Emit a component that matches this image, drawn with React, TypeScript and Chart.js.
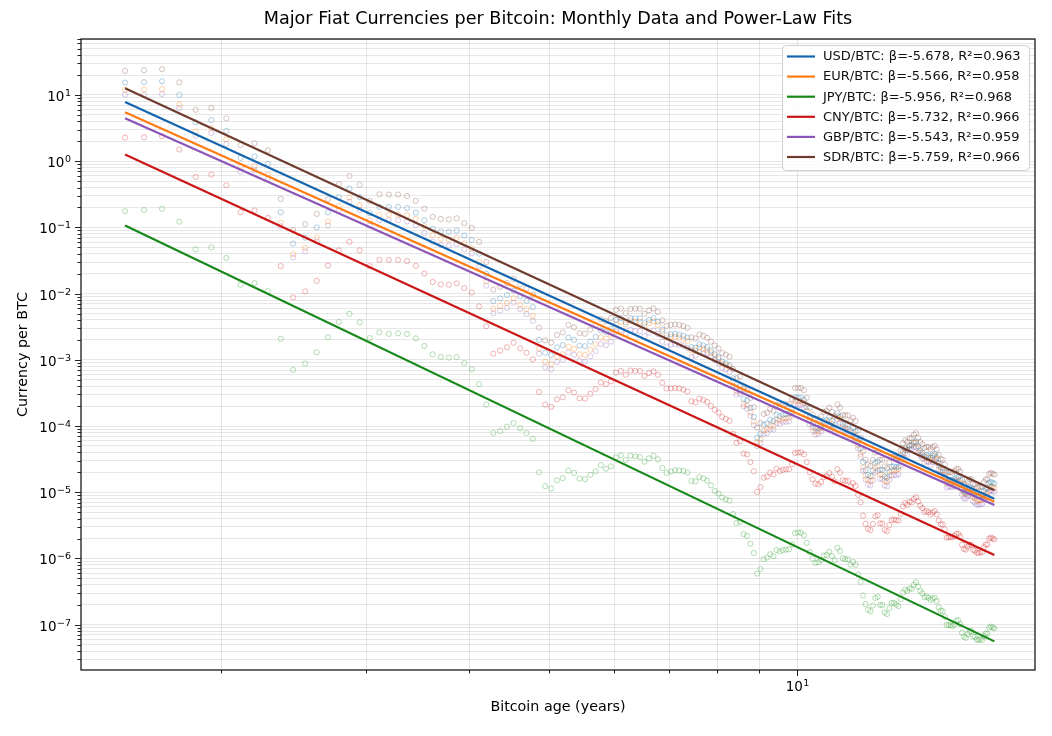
import React, { useEffect, useRef } from 'react';
import { Chart, registerables } from 'chart.js';

Chart.register(...registerables);

const FONT = "'DejaVu Sans', 'Liberation Sans', sans-serif";
const TITLE = 'Major Fiat Currencies per Bitcoin: Monthly Data and Power-Law Fits';

const CURRENCIES = ['USD', 'EUR', 'JPY', 'CNY', 'GBP', 'SDR'];
const BETAS = ['-5.678', '-5.566', '-5.956', '-5.732', '-5.543', '-5.759'];
const R2S = ['0.963', '0.958', '0.968', '0.966', '0.959', '0.966'];
const LINE_COLORS = ['#1565ae', '#ff7c12', '#17881a', '#cc1515', '#8c55b8', '#6e3b2f'];
const DOT_COLORS = [
   'rgba(31,119,180,0.35)',
   'rgba(255,127,14,0.35)',
   'rgba(44,160,44,0.35)',
   'rgba(214,39,40,0.35)',
   'rgba(148,103,189,0.35)',
   'rgba(140,86,75,0.35)',
];

// monthly points, first one is Jul 2010 (age in years since the genesis block)
const AGE_FIRST = 1.528;

// currency per BTC, Jul 2010 .. May 2026
const USD = [
   15.4, 15.6, 16.1, 10.0, 3.85, 4.17,
   2.86, 1.12, 1.18, 0.909, 0.169, 0.0568, 0.0699, 0.1, 0.169, 0.286, 0.385, 0.286,
   0.164, 0.204, 0.204, 0.204, 0.196, 0.167, 0.128, 0.0952, 0.087, 0.0855, 0.0893, 0.0752,
   0.0645, 0.04, 0.02, 7.69e-3, 8.47e-3, 9.52e-3, 1.11e-2, 9.09e-3, 7.81e-3, 6.25e-3, 2.0e-3, 1.28e-3,
   1.18e-3, 1.54e-3, 1.67e-3, 2.17e-3, 2.0e-3, 1.64e-3, 1.61e-3, 1.89e-3, 2.22e-3, 2.78e-3, 2.63e-3, 2.94e-3,
   4.0e-3, 4.26e-3, 3.7e-3, 4.26e-3, 4.22e-3, 4.22e-3, 3.57e-3, 4.0e-3, 4.26e-3, 3.77e-3, 2.86e-3, 2.38e-3,
   2.44e-3, 2.47e-3, 2.41e-3, 2.3e-3, 2.17e-3, 1.56e-3, 1.52e-3, 1.72e-3, 1.65e-3, 1.56e-3, 1.38e-3, 1.22e-3,
   1.1e-3, 9.43e-4, 8.85e-4, 8.26e-4, 5.26e-4, 3.8e-4, 4.0e-4, 2.56e-4, 2.44e-4, 1.89e-4, 1.37e-4, 6.67e-5,
   7.69e-5, 1.05e-4, 1.09e-4, 1.25e-4, 1.19e-4, 1.47e-4, 1.41e-4, 1.49e-4, 1.52e-4, 1.54e-4, 1.85e-4, 2.7e-4,
   2.7e-4, 2.7e-4, 2.5e-4, 1.92e-4, 1.37e-4, 1.08e-4, 9.26e-5, 9.35e-5, 1.02e-4, 1.2e-4, 1.23e-4, 1.37e-4,
   1.19e-4, 1.03e-4, 1.56e-4, 1.39e-4, 1.08e-4, 1.05e-4, 1.04e-4, 8.55e-5, 9.35e-5, 8.4e-5, 6.02e-5, 4.61e-5,
   2.87e-5, 2.16e-5, 1.83e-5, 1.75e-5, 2.13e-5, 2.79e-5, 2.91e-5, 2.19e-5, 2.18e-5, 1.73e-5, 1.65e-5, 2.03e-5,
   2.43e-5, 2.46e-5, 2.39e-5, 2.41e-5, 3.14e-5, 4.1e-5, 4.63e-5, 4.37e-5, 5.05e-5, 5.1e-5, 5.68e-5, 5.88e-5,
   4.93e-5, 4.29e-5, 3.98e-5, 3.47e-5, 3.64e-5, 3.6e-5, 3.32e-5, 3.6e-5, 3.8e-5, 3.39e-5, 2.74e-5, 2.35e-5,
   2.34e-5, 1.98e-5, 1.48e-5, 1.52e-5, 1.53e-5, 1.51e-5, 1.59e-5, 1.68e-5, 1.67e-5, 1.53e-5, 1.16e-5, 1.02e-5,
   9.9e-6, 1.09e-5, 1.18e-5, 1.16e-5, 9.71e-6, 9.48e-6, 8.77e-6, 8.7e-6, 8.93e-6, 8.85e-6, 1.05e-5, 1.14e-5,
   1.14e-5, 1.39e-5, 1.43e-5, 1.39e-5, 1.35e-5,
];

const EUR = [
   12.0, 12.1, 12.3, 7.19, 2.81, 3.16,
   2.13, 0.818, 0.843, 0.627, 0.118, 0.0394, 0.0489, 0.0699, 0.123, 0.209, 0.283, 0.217,
   0.127, 0.155, 0.155, 0.155, 0.153, 0.134, 0.104, 0.0768, 0.0674, 0.0658, 0.0698, 0.0574,
   0.0485, 0.0301, 0.0154, 5.92e-3, 6.52e-3, 7.21e-3, 8.47e-3, 6.83e-3, 5.83e-3, 4.6e-3, 1.48e-3, 9.34e-4,
   8.68e-4, 1.12e-3, 1.21e-3, 1.57e-3, 1.46e-3, 1.21e-3, 1.19e-3, 1.42e-3, 1.72e-3, 2.19e-3, 2.1e-3, 2.39e-3,
   3.45e-3, 3.74e-3, 3.43e-3, 3.94e-3, 3.77e-3, 3.77e-3, 3.25e-3, 3.6e-3, 3.8e-3, 3.37e-3, 2.67e-3, 2.18e-3,
   2.24e-3, 2.23e-3, 2.17e-3, 2.04e-3, 1.92e-3, 1.39e-3, 1.37e-3, 1.54e-3, 1.47e-3, 1.42e-3, 1.28e-3, 1.16e-3,
   1.04e-3, 8.81e-4, 8.27e-4, 7.72e-4, 4.74e-4, 3.39e-4, 3.48e-4, 2.17e-4, 2.05e-4, 1.6e-4, 1.17e-4, 5.65e-5,
   6.3e-5, 8.54e-5, 8.86e-5, 1.02e-4, 1.01e-4, 1.26e-4, 1.21e-4, 1.3e-4, 1.3e-4, 1.34e-4, 1.62e-4, 2.37e-4,
   2.37e-4, 2.37e-4, 2.21e-4, 1.71e-4, 1.22e-4, 9.56e-5, 8.27e-5, 8.42e-5, 9.27e-5, 1.08e-4, 1.11e-4, 1.23e-4,
   1.07e-4, 9.45e-5, 1.41e-4, 1.28e-4, 9.82e-5, 9.29e-5, 9.04e-5, 7.25e-5, 7.92e-5, 7.12e-5, 5.1e-5, 3.78e-5,
   2.35e-5, 1.79e-5, 1.54e-5, 1.46e-5, 1.75e-5, 2.33e-5, 2.47e-5, 1.86e-5, 1.85e-5, 1.49e-5, 1.45e-5, 1.8e-5,
   2.15e-5, 2.18e-5, 2.17e-5, 2.23e-5, 2.96e-5, 3.87e-5, 4.54e-5, 4.33e-5, 5.1e-5, 5.2e-5, 5.57e-5, 5.55e-5,
   4.56e-5, 4.01e-5, 3.72e-5, 3.15e-5, 3.34e-5, 3.33e-5, 2.99e-5, 3.3e-5, 3.55e-5, 3.2e-5, 2.54e-5, 2.16e-5,
   2.15e-5, 1.83e-5, 1.36e-5, 1.42e-5, 1.42e-5, 1.4e-5, 1.47e-5, 1.53e-5, 1.5e-5, 1.4e-5, 1.09e-5, 9.71e-6,
   9.52e-6, 1.05e-5, 1.09e-5, 1.04e-5, 8.59e-6, 8.24e-6, 7.5e-6, 7.5e-6, 7.63e-6, 7.63e-6, 9.05e-6, 9.74e-6,
   9.74e-6, 1.19e-5, 1.23e-5, 1.2e-5, 1.16e-5,
];

const JPY = [
   0.176, 0.183, 0.191, 0.122, 0.0466, 0.05,
   0.0346, 0.0136, 0.0145, 0.0109, 2.08e-3, 7.06e-4, 8.8e-4, 1.3e-3, 2.2e-3, 3.73e-3, 4.96e-3, 3.68e-3,
   2.13e-3, 2.6e-3, 2.47e-3, 2.51e-3, 2.46e-3, 2.11e-3, 1.62e-3, 1.21e-3, 1.11e-3, 1.08e-3, 1.1e-3, 8.96e-4,
   7.23e-4, 4.3e-4, 2.11e-4, 7.87e-5, 8.38e-5, 9.78e-5, 1.11e-4, 9.29e-5, 7.87e-5, 6.39e-5, 2.0e-5, 1.24e-5,
   1.14e-5, 1.51e-5, 1.63e-5, 2.12e-5, 1.96e-5, 1.61e-5, 1.58e-5, 1.84e-5, 2.07e-5, 2.57e-5, 2.26e-5, 2.46e-5,
   3.38e-5, 3.59e-5, 3.07e-5, 3.56e-5, 3.49e-5, 3.41e-5, 2.9e-5, 3.25e-5, 3.55e-5, 3.14e-5, 2.33e-5, 1.96e-5,
   2.06e-5, 2.15e-5, 2.13e-5, 2.1e-5, 1.99e-5, 1.48e-5, 1.46e-5, 1.7e-5, 1.62e-5, 1.5e-5, 1.27e-5, 1.05e-5,
   9.57e-6, 8.33e-6, 7.84e-6, 7.51e-6, 4.69e-6, 3.43e-6, 3.56e-6, 2.33e-6, 2.2e-6, 1.67e-6, 1.21e-6, 5.91e-7,
   6.93e-7, 9.72e-7, 1.03e-6, 1.16e-6, 1.08e-6, 1.34e-6, 1.27e-6, 1.34e-6, 1.36e-6, 1.37e-6, 1.63e-6, 2.41e-6,
   2.48e-6, 2.44e-6, 2.25e-6, 1.72e-6, 1.25e-6, 9.99e-7, 8.56e-7, 8.8e-7, 9.49e-7, 1.11e-6, 1.13e-6, 1.26e-6,
   1.09e-6, 9.36e-7, 1.45e-6, 1.29e-6, 1.01e-6, 9.76e-7, 9.75e-7, 8.07e-7, 8.85e-7, 7.98e-7, 5.77e-7, 4.44e-7,
   2.76e-7, 2.05e-7, 1.68e-7, 1.6e-7, 1.95e-7, 2.53e-7, 2.64e-7, 1.99e-7, 1.98e-7, 1.53e-7, 1.45e-7, 1.78e-7,
   2.12e-7, 2.14e-7, 2.02e-7, 1.91e-7, 2.44e-7, 3.05e-7, 3.38e-7, 3.23e-7, 3.53e-7, 3.47e-7, 4.0e-7, 4.36e-7,
   3.78e-7, 3.23e-7, 2.98e-7, 2.6e-7, 2.66e-7, 2.55e-7, 2.36e-7, 2.49e-7, 2.57e-7, 2.27e-7, 1.83e-7, 1.63e-7,
   1.6e-7, 1.32e-7, 9.89e-8, 9.89e-8, 9.81e-8, 9.56e-8, 1.01e-7, 1.15e-7, 1.17e-7, 1.02e-7, 7.55e-8, 6.64e-8,
   6.33e-8, 7.18e-8, 7.91e-8, 8.04e-8, 6.7e-8, 6.56e-8, 5.97e-8, 5.9e-8, 6.04e-8, 5.84e-8, 6.77e-8, 7.32e-8,
   7.31e-8, 9.03e-8, 9.35e-8, 9.08e-8, 8.83e-8,
];

const CNY = [
   2.27, 2.3, 2.39, 1.5, 0.579, 0.626,
   0.433, 0.17, 0.18, 0.139, 0.026, 8.78e-3, 0.0108, 0.0156, 0.0265, 0.0449, 0.0605, 0.045,
   0.026, 0.0324, 0.0323, 0.0323, 0.031, 0.0263, 0.0201, 0.015, 0.0138, 0.0136, 0.0143, 0.0121,
   0.0104, 6.42e-3, 3.22e-3, 1.24e-3, 1.38e-3, 1.55e-3, 1.81e-3, 1.49e-3, 1.28e-3, 1.02e-3, 3.28e-4, 2.11e-4,
   1.95e-4, 2.53e-4, 2.72e-4, 3.48e-4, 3.21e-4, 2.63e-4, 2.6e-4, 3.07e-4, 3.62e-4, 4.54e-4, 4.29e-4, 4.74e-4,
   6.43e-4, 6.82e-4, 5.95e-4, 6.87e-4, 6.81e-4, 6.8e-4, 5.75e-4, 6.32e-4, 6.69e-4, 5.94e-4, 4.49e-4, 3.7e-4,
   3.71e-4, 3.77e-4, 3.7e-4, 3.55e-4, 3.32e-4, 2.37e-4, 2.28e-4, 2.59e-4, 2.47e-4, 2.31e-4, 2.01e-4, 1.76e-4,
   1.6e-4, 1.37e-4, 1.28e-4, 1.2e-4, 7.65e-5, 5.59e-5, 5.91e-5, 3.84e-5, 3.72e-5, 2.86e-5, 2.07e-5, 1.01e-5,
   1.2e-5, 1.66e-5, 1.72e-5, 1.98e-5, 1.86e-5, 2.27e-5, 2.1e-5, 2.18e-5, 2.22e-5, 2.23e-5, 2.67e-5, 3.92e-5,
   3.98e-5, 4.01e-5, 3.73e-5, 2.85e-5, 2.0e-5, 1.57e-5, 1.35e-5, 1.32e-5, 1.43e-5, 1.69e-5, 1.75e-5, 1.95e-5,
   1.72e-5, 1.47e-5, 2.23e-5, 1.97e-5, 1.52e-5, 1.48e-5, 1.49e-5, 1.23e-5, 1.37e-5, 1.25e-5, 9.12e-6, 7.05e-6,
   4.44e-6, 3.34e-6, 2.81e-6, 2.68e-6, 3.31e-6, 4.34e-6, 4.5e-6, 3.38e-6, 3.37e-6, 2.7e-6, 2.58e-6, 3.19e-6,
   3.82e-6, 3.88e-6, 3.77e-6, 3.75e-6, 4.69e-6, 6.12e-6, 6.87e-6, 6.44e-6, 7.19e-6, 7.05e-6, 7.93e-6, 8.42e-6,
   7.27e-6, 6.27e-6, 5.77e-6, 5.03e-6, 5.19e-6, 5.01e-6, 4.62e-6, 4.97e-6, 5.2e-6, 4.64e-6, 3.78e-6, 3.29e-6,
   3.26e-6, 2.75e-6, 2.06e-6, 2.1e-6, 2.12e-6, 2.08e-6, 2.19e-6, 2.35e-6, 2.36e-6, 2.15e-6, 1.61e-6, 1.4e-6,
   1.36e-6, 1.5e-6, 1.63e-6, 1.59e-6, 1.35e-6, 1.32e-6, 1.22e-6, 1.21e-6, 1.25e-6, 1.24e-6, 1.48e-6, 1.62e-6,
   1.63e-6, 2.0e-6, 2.06e-6, 2.0e-6, 1.94e-6,
];

const GBP = [
   10.1, 9.94, 10.3, 6.33, 2.42, 2.67,
   1.81, 0.696, 0.728, 0.554, 0.104, 0.0351, 0.0434, 0.0613, 0.107, 0.181, 0.244, 0.183,
   0.106, 0.129, 0.129, 0.128, 0.123, 0.108, 0.0821, 0.0606, 0.054, 0.0531, 0.0562, 0.0467,
   0.0406, 0.0258, 0.0132, 5.03e-3, 5.54e-3, 6.1e-3, 7.3e-3, 5.86e-3, 4.91e-3, 3.88e-3, 1.24e-3, 7.8e-4,
   7.15e-4, 9.28e-4, 1.01e-3, 1.29e-3, 1.19e-3, 9.7e-4, 9.42e-4, 1.13e-3, 1.36e-3, 1.73e-3, 1.66e-3, 1.88e-3,
   2.65e-3, 2.78e-3, 2.47e-3, 2.84e-3, 2.72e-3, 2.71e-3, 2.29e-3, 2.56e-3, 2.78e-3, 2.46e-3, 1.88e-3, 1.59e-3,
   1.69e-3, 1.73e-3, 1.7e-3, 1.61e-3, 1.5e-3, 1.1e-3, 1.16e-3, 1.31e-3, 1.26e-3, 1.27e-3, 1.11e-3, 9.92e-4,
   8.94e-4, 7.54e-4, 7.2e-4, 6.56e-4, 4.08e-4, 2.97e-4, 3.08e-4, 1.98e-4, 1.83e-4, 1.43e-4, 1.03e-4, 4.98e-5,
   5.57e-5, 7.55e-5, 7.79e-5, 8.87e-5, 8.88e-5, 1.11e-4, 1.08e-4, 1.16e-4, 1.16e-4, 1.18e-4, 1.43e-4, 2.13e-4,
   2.09e-4, 2.08e-4, 1.91e-4, 1.48e-4, 1.06e-4, 8.5e-5, 7.41e-5, 7.66e-5, 8.23e-5, 9.45e-5, 9.53e-5, 1.05e-4,
   9.08e-5, 7.98e-5, 1.26e-4, 1.12e-4, 8.78e-5, 8.4e-5, 8.25e-5, 6.53e-5, 7.19e-5, 6.46e-5, 4.56e-5, 3.44e-5,
   2.11e-5, 1.55e-5, 1.32e-5, 1.27e-5, 1.51e-5, 1.99e-5, 2.11e-5, 1.59e-5, 1.59e-5, 1.26e-5, 1.23e-5, 1.53e-5,
   1.79e-5, 1.82e-5, 1.81e-5, 1.87e-5, 2.51e-5, 3.33e-5, 3.86e-5, 3.7e-5, 4.47e-5, 4.51e-5, 4.85e-5, 4.82e-5,
   4.01e-5, 3.55e-5, 3.29e-5, 2.8e-5, 2.94e-5, 2.86e-5, 2.57e-5, 2.83e-5, 3.06e-5, 2.78e-5, 2.21e-5, 1.85e-5,
   1.84e-5, 1.57e-5, 1.17e-5, 1.22e-5, 1.21e-5, 1.19e-5, 1.23e-5, 1.3e-5, 1.27e-5, 1.18e-5, 9.13e-6, 8.1e-6,
   7.98e-6, 8.72e-6, 9.15e-6, 8.85e-6, 7.25e-6, 6.97e-6, 6.5e-6, 6.49e-6, 6.61e-6, 6.65e-6, 8.02e-6, 8.51e-6,
   8.44e-6, 1.03e-5, 1.07e-5, 1.04e-5, 1.01e-5,
];

const SDR = [
   23.1, 23.6, 24.5, 15.5, 5.97, 6.38,
   4.43, 1.76, 1.86, 1.46, 0.269, 0.0909, 0.112, 0.16, 0.267, 0.449, 0.601, 0.44,
   0.251, 0.316, 0.314, 0.314, 0.298, 0.252, 0.192, 0.144, 0.134, 0.132, 0.137, 0.116,
   0.0987, 0.0604, 0.03, 0.0115, 0.0127, 0.0144, 0.0167, 0.0138, 0.0119, 9.63e-3, 3.06e-3, 1.97e-3,
   1.82e-3, 2.37e-3, 2.59e-3, 3.36e-3, 3.1e-3, 2.53e-3, 2.48e-3, 2.87e-3, 3.31e-3, 4.11e-3, 3.84e-3, 4.26e-3,
   5.68e-3, 5.96e-3, 5.07e-3, 5.88e-3, 5.91e-3, 5.91e-3, 4.96e-3, 5.6e-3, 5.96e-3, 5.28e-3, 3.95e-3, 3.28e-3,
   3.37e-3, 3.43e-3, 3.37e-3, 3.24e-3, 3.04e-3, 2.18e-3, 2.11e-3, 2.41e-3, 2.31e-3, 2.15e-3, 1.88e-3, 1.65e-3,
   1.49e-3, 1.27e-3, 1.2e-3, 1.12e-3, 7.26e-4, 5.28e-4, 5.6e-4, 3.64e-4, 3.49e-4, 2.66e-4, 1.93e-4, 9.47e-5,
   1.11e-4, 1.52e-4, 1.58e-4, 1.81e-4, 1.7e-4, 2.09e-4, 1.99e-4, 2.09e-4, 2.13e-4, 2.14e-4, 2.55e-4, 3.75e-4,
   3.78e-4, 3.75e-4, 3.48e-4, 2.67e-4, 1.89e-4, 1.49e-4, 1.28e-4, 1.28e-4, 1.4e-4, 1.64e-4, 1.69e-4, 1.89e-4,
   1.64e-4, 1.41e-4, 2.12e-4, 1.89e-4, 1.47e-4, 1.45e-4, 1.46e-4, 1.21e-4, 1.33e-4, 1.19e-4, 8.61e-5, 6.64e-5,
   4.13e-5, 3.11e-5, 2.62e-5, 2.5e-5, 3.07e-5, 3.99e-5, 4.16e-5, 3.11e-5, 3.1e-5, 2.46e-5, 2.31e-5, 2.84e-5,
   3.4e-5, 3.44e-5, 3.3e-5, 3.28e-5, 4.24e-5, 5.49e-5, 6.11e-5, 5.77e-5, 6.51e-5, 6.58e-5, 7.44e-5, 7.82e-5,
   6.66e-5, 5.75e-5, 5.33e-5, 4.68e-5, 4.88e-5, 4.82e-5, 4.48e-5, 4.82e-5, 5.02e-5, 4.44e-5, 3.64e-5, 3.15e-5,
   3.11e-5, 2.61e-5, 1.97e-5, 2.01e-5, 2.02e-5, 1.99e-5, 2.1e-5, 2.25e-5, 2.25e-5, 2.05e-5, 1.53e-5, 1.34e-5,
   1.3e-5, 1.43e-5, 1.57e-5, 1.58e-5, 1.33e-5, 1.31e-5, 1.2e-5, 1.19e-5, 1.22e-5, 1.2e-5, 1.43e-5, 1.56e-5,
   1.56e-5, 1.9e-5, 1.96e-5, 1.9e-5, 1.85e-5,
];

const SERIES = [USD, EUR, JPY, CNY, GBP, SDR];

// power-law fit values at the first and the last month
const FIT_START = [7.83, 5.48, 0.107, 1.26, 4.45, 12.6];
const FIT_END = [8.0e-6, 7.2e-6, 5.6e-8, 1.13e-6, 6.4e-6, 1.07e-5];

const X_MIN = 1.351;
const X_MAX = 19.45;
const Y_MIN = 2.07e-8;
const Y_MAX = 70;
const X_TICKS = [2, 3, 4, 5, 6, 7, 8, 9, 10];
const Y_DECADES = [-8, -7, -6, -5, -4, -3, -2, -1, 0, 1];

function isDecade(v: number) {
   const l = Math.log10(v);
   return Math.abs(l - Math.round(l)) < 1e-6;
}

const yTickValues: number[] = [];
Y_DECADES.forEach((n) => {
   for (let k = 1; k <= 9; k++) {
      const v = k * Math.pow(10, n);
      if (v >= Y_MIN && v <= Y_MAX) yTickValues.push(v);
   }
});

// "10" with a raised exponent, like matplotlib's mathtext labels
function drawPower(ctx: CanvasRenderingContext2D, v: number, x: number, baseline: number, align: 'right' | 'center') {
   const e = Math.round(Math.log10(v));
   const sup = e < 0 ? '\u2212' + Math.abs(e) : String(e);
   ctx.font = `13.5px ${FONT}`;
   const wb = ctx.measureText('10').width;
   ctx.font = `9.5px ${FONT}`;
   const ws = ctx.measureText(sup).width;
   const total = wb + 0.5 + ws;
   const x0 = align === 'right' ? x - total : x - total / 2;
   ctx.textAlign = 'left';
   ctx.textBaseline = 'alphabetic';
   ctx.font = `13.5px ${FONT}`;
   ctx.fillText('10', x0, baseline);
   ctx.font = `9.5px ${FONT}`;
   ctx.fillText(sup, x0 + wb + 0.5, baseline - 5);
}

// frame, tick marks, tick labels, title and legend
const decorations = {
   id: 'decorations',
   afterDraw(chart: any) {
      const { ctx, chartArea: a, scales } = chart;
      ctx.save();
      ctx.strokeStyle = '#222';
      ctx.lineWidth = 1;
      ctx.fillStyle = '#000';
      scales.x.ticks.forEach((t: any) => {
         const px = Math.round(scales.x.getPixelForValue(t.value)) + 0.5;
         const major = isDecade(t.value);
         ctx.beginPath();
         ctx.moveTo(px, a.bottom);
         ctx.lineTo(px, a.bottom + (major ? 6 : 3.5));
         ctx.stroke();
         if (major) drawPower(ctx, t.value, px, 691, 'center');
      });
      scales.y.ticks.forEach((t: any) => {
         const py = Math.round(scales.y.getPixelForValue(t.value)) + 0.5;
         const major = isDecade(t.value);
         ctx.beginPath();
         ctx.moveTo(a.left, py);
         ctx.lineTo(a.left - (major ? 6 : 3.5), py);
         ctx.stroke();
         if (major) drawPower(ctx, t.value, 71, py + 5.5, 'right');
      });

      ctx.strokeStyle = '#1a1a1a';
      ctx.lineWidth = 1.3;
      ctx.strokeRect(a.left, a.top, a.right - a.left, a.bottom - a.top);

      ctx.fillStyle = '#000';
      ctx.font = `17.6px ${FONT}`;
      ctx.textAlign = 'center';
      ctx.textBaseline = 'middle';
      ctx.fillText(TITLE, (a.left + a.right) / 2, 19);

      // legend
      const bx = 782;
      const by = 45;
      const bw = 247;
      const bh = 125;
      ctx.beginPath();
      ctx.roundRect(bx + 0.5, by + 0.5, bw, bh, 4);
      ctx.fillStyle = 'rgba(255,255,255,0.85)';
      ctx.fill();
      ctx.strokeStyle = '#cfcfcf';
      ctx.lineWidth = 1;
      ctx.stroke();
      ctx.font = `13px ${FONT}`;
      ctx.textAlign = 'left';
      ctx.textBaseline = 'middle';
      const fits = chart.data.datasets.filter((d: any) => d.isFit);
      fits.forEach((d: any, i: number) => {
         const y = by + 11.5 + i * 20.1;
         ctx.strokeStyle = d.borderColor;
         ctx.lineWidth = 2.2;
         ctx.beginPath();
         ctx.moveTo(bx + 5, y);
         ctx.lineTo(bx + 33, y);
         ctx.stroke();
         ctx.fillStyle = '#111';
         ctx.fillText(d.label, bx + 41, y + 0.5);
      });
      ctx.restore();
   },
};

const App = () => {
   const canvasRef = useRef<HTMLCanvasElement | null>(null);

   useEffect(() => {
      document.body.style.margin = '0';
      if (!canvasRef.current) return;

      const ages = USD.map((_, i) => AGE_FIRST + i / 12);
      const ageLast = ages[ages.length - 1];

      const fitSets = CURRENCIES.map((c, i) => ({
         label: `${c}/BTC: \u03b2=${BETAS[i]}, R\u00b2=${R2S[i]}`,
         isFit: true,
         data: [
            { x: AGE_FIRST, y: FIT_START[i] },
            { x: ageLast, y: FIT_END[i] },
         ],
         showLine: true,
         borderColor: LINE_COLORS[i],
         borderWidth: 2.2,
         pointRadius: 0,
         order: 0,
      }));

      const dotSets = CURRENCIES.map((c, i) => ({
         label: c,
         data: SERIES[i].map((v, j) => ({ x: ages[j], y: v })),
         showLine: false,
         pointStyle: 'circle',
         pointRadius: 2.6,
         pointBorderWidth: 1,
         pointBackgroundColor: 'rgba(0,0,0,0)',
         pointBorderColor: DOT_COLORS[i],
         order: 1,
      }));

      const chart = new Chart(canvasRef.current, {
         type: 'scatter',
         data: { datasets: [...fitSets, ...dotSets] as any },
         options: {
            responsive: false,
            animation: false,
            events: [],
            layout: { padding: { left: 0, top: 39, right: 17, bottom: 0 } },
            plugins: {
               legend: { display: false },
               tooltip: { enabled: false },
               title: { display: false },
            },
            scales: {
               x: {
                  type: 'logarithmic',
                  min: X_MIN,
                  max: X_MAX,
                  afterBuildTicks: (axis: any) => {
                     axis.ticks = X_TICKS.map((v) => ({ value: v }));
                  },
                  afterFit: (axis: any) => {
                     axis.height = 66;
                  },
                  ticks: { display: false, autoSkip: false },
                  grid: { color: 'rgba(0,0,0,0.12)', lineWidth: 0.8, drawTicks: false },
                  border: { display: false },
                  title: {
                     display: true,
                     text: 'Bitcoin age (years)',
                     color: '#000',
                     font: { family: FONT, size: 14.3 },
                     padding: { top: 0, bottom: 20 },
                  },
               },
               y: {
                  type: 'logarithmic',
                  min: Y_MIN,
                  max: Y_MAX,
                  afterBuildTicks: (axis: any) => {
                     axis.ticks = yTickValues.map((v) => ({ value: v }));
                  },
                  afterFit: (axis: any) => {
                     axis.width = 81;
                  },
                  ticks: { display: false, autoSkip: false },
                  grid: { color: 'rgba(0,0,0,0.12)', lineWidth: 0.8, drawTicks: false },
                  border: { display: false },
                  title: {
                     display: true,
                     text: 'Currency per BTC',
                     color: '#000',
                     font: { family: FONT, size: 14.3 },
                     padding: { top: 15, bottom: 0 },
                  },
               },
            },
         },
         plugins: [decorations],
      });

      return () => {
         chart.destroy();
      };
   }, []);

   return <canvas ref={canvasRef} width={1052} height={736} style={{ display: 'block' }} />;
};

export default App;
